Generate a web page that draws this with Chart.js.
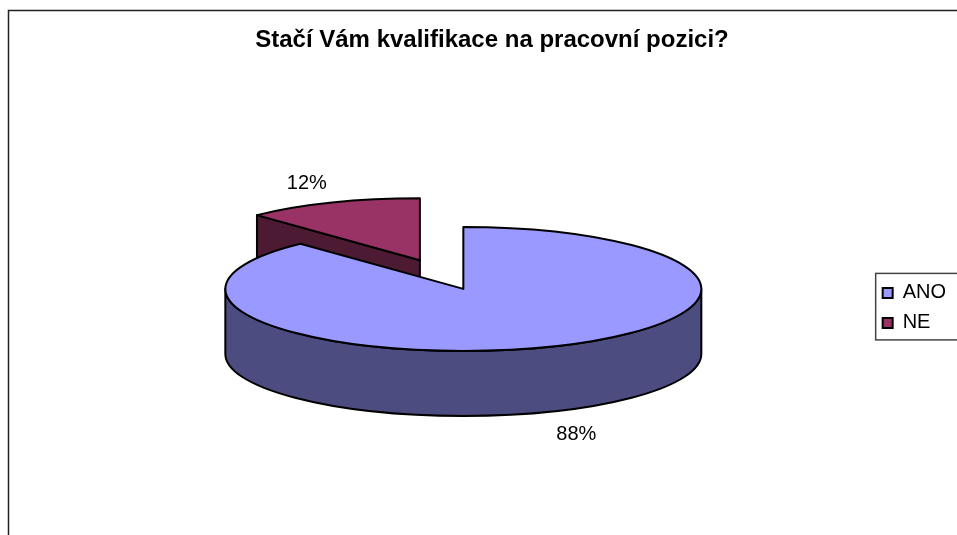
<!DOCTYPE html>
<html><head><meta charset="utf-8">
<script src="https://cdn.jsdelivr.net/npm/chart.js@4.4.0/dist/chart.umd.min.js"></script>
<style>html,body{margin:0;padding:0;background:#fff;}#wrap{width:957px;height:535px;}</style>
</head><body><div id="wrap"><canvas id="c" width="957" height="535"></canvas></div>
<script>
// ---- data ----
const titleText = 'Stačí Vám kvalifikace na pracovní pozici?';
const categories = ['ANO', 'NE'];
const values = [88, 12];
const percentLabels = ['88%', '12%'];
// ---- style ----
const topColors = ['#9999FF', '#993366'];
const sideColors = ['#4C4C80', '#4D1A33'];
const explodeOffsets = [0, 118];

const FONT = "'Liberation Sans', Arial, sans-serif";
const TILT = 62 / 238;     // vertical squash of the pie
const DEPTH = 65;          // thickness of the 3D pie
const SHIFT = {x: 13, y: -19};

let pieGeom = [];

function computeGeom(chart) {
  const meta = chart.getDatasetMeta(0);
  return meta.data.map((arc, i) => {
    const p = arc.getProps(['x', 'y', 'startAngle', 'endAngle', 'outerRadius'], true);
    const rx = p.outerRadius, ry = rx * TILT;
    const mid = (p.startAngle + p.endAngle) / 2;
    const off = arc.options.offset || 0;
    return {
      i, s: p.startAngle, e: p.endAngle, mid, rx, ry,
      cx: p.x + SHIFT.x + Math.cos(mid) * off,
      cy: p.y + SHIFT.y + Math.sin(mid) * off * TILT,
      top: arc.options.backgroundColor,
      border: arc.options.borderColor,
      bw: arc.options.borderWidth
    };
  });
}

function drawSlice(ctx, g) {
  const {cx, cy, rx, ry, s, e} = g;
  const side = sideColors[g.i];
  const pt = a => [cx + rx * Math.cos(a), cy + ry * Math.sin(a)];
  ctx.lineJoin = 'round';
  ctx.lineWidth = g.bw;
  ctx.strokeStyle = g.border;
  const faces = [];
  if (Math.cos(s) < -1e-6) faces.push(s);
  if (Math.cos(e) > 1e-6) faces.push(e);
  faces.forEach(a => {
    const [x1, y1] = pt(a);
    ctx.beginPath();
    ctx.moveTo(cx, cy); ctx.lineTo(x1, y1); ctx.lineTo(x1, y1 + DEPTH); ctx.lineTo(cx, cy + DEPTH);
    ctx.closePath();
    ctx.fillStyle = side; ctx.fill(); ctx.stroke();
  });
  for (let k = -1; k <= 2; k++) {
    const lo = Math.max(s, 2 * Math.PI * k), hi = Math.min(e, 2 * Math.PI * k + Math.PI);
    if (hi > lo) {
      ctx.beginPath();
      ctx.ellipse(cx, cy, rx, ry, 0, lo, hi);
      ctx.ellipse(cx, cy + DEPTH, rx, ry, 0, hi, lo, true);
      ctx.closePath();
      ctx.fillStyle = side; ctx.fill(); ctx.stroke();
    }
  }
  ctx.beginPath();
  ctx.moveTo(cx, cy);
  ctx.ellipse(cx, cy, rx, ry, 0, s, e);
  ctx.closePath();
  ctx.fillStyle = g.top; ctx.fill(); ctx.stroke();
}

const pie3d = {
  id: 'pie3d',
  beforeDraw(chart) {
    const ctx = chart.ctx;
    ctx.save();
    ctx.fillStyle = '#fff';
    ctx.fillRect(0, 0, chart.width, chart.height);
    ctx.strokeStyle = '#222';
    ctx.lineWidth = 1.5;
    ctx.beginPath();
    ctx.moveTo(8.5, chart.height + 5); ctx.lineTo(8.5, 10.5); ctx.lineTo(chart.width + 5, 10.5);
    ctx.stroke();
    ctx.restore();
  },
  beforeDatasetsDraw(chart) {
    const ctx = chart.ctx;
    pieGeom = computeGeom(chart);
    const order = pieGeom.slice().sort((a, b) => (a.cy + Math.sin(a.mid) * a.ry) - (b.cy + Math.sin(b.mid) * b.ry));
    ctx.save();
    order.forEach(g => drawSlice(ctx, g));
    ctx.restore();
    return false;
  },
  afterDraw(chart) {
    const ctx = chart.ctx;
    ctx.save();
    ctx.font = '20px ' + FONT;
    ctx.fillStyle = '#000';
    ctx.textAlign = 'center';
    ctx.textBaseline = 'middle';
    pieGeom.forEach(g => {
      const sn = Math.sin(g.mid);
      const x = g.cx + g.rx * Math.cos(g.mid) * 1.29;
      const y = g.cy + g.ry * sn * 1.37 + (sn > 0 ? DEPTH : 0) + 2;
      ctx.fillText(percentLabels[g.i], x, y);
    });
    const hb = chart.legend.legendHitBoxes;
    if (hb && hb.length) {
      const l = hb[0].left - 7;
      const t = hb[0].top - 9.5;
      const last = hb[hb.length - 1];
      const b = last.top + last.height + 7;
      ctx.strokeStyle = '#444';
      ctx.lineWidth = 1.5;
      ctx.strokeRect(l, t, chart.width + 10 - l, b - t);
    }
    ctx.restore();
  }
};

new Chart(document.getElementById('c'), {
  type: 'pie',
  data: {
    labels: categories,
    datasets: [{
      data: values,
      backgroundColor: topColors,
      borderColor: '#000',
      borderWidth: 2,
      offset: explodeOffsets,
      radius: 238
    }]
  },
  options: {
    responsive: false,
    animation: false,
    devicePixelRatio: 1,
    layout: {padding: {left: 28, right: 1, top: 10, bottom: 0}},
    plugins: {
      title: {
        display: true,
        text: titleText,
        color: '#000',
        font: {family: FONT, size: 24, weight: 'bold'},
        padding: {top: 16, bottom: 26}
      },
      legend: {
        position: 'right',
        fullSize: false,
        labels: {
          color: '#000',
          font: {family: FONT, size: 20},
          boxWidth: 10,
          boxHeight: 10,
          padding: 10
        }
      },
      tooltip: {enabled: false}
    }
  },
  plugins: [pie3d]
});
</script>
</body></html>
